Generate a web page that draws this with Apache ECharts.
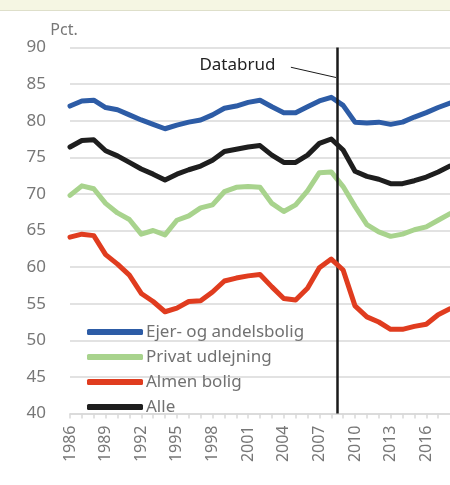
<!DOCTYPE html>
<html>
<head>
<meta charset="utf-8">
<script src="https://cdn.jsdelivr.net/npm/echarts@6/dist/echarts.min.js"></script>
<style>
  html, body { margin: 0; padding: 0; background: #fff; }
  #band { position: absolute; left: 0; top: 0; width: 450px; height: 10px; background: #f5f6e3; border-bottom: 1px solid #dedfca; }
  #chart { position: absolute; left: 0; top: 0; width: 450px; height: 485px; }
</style>
</head>
<body>
<div id="band"></div>
<div id="chart"></div>
<script>
// years 1986-2018
var years = [];
for (var y = 1986; y <= 2018; y++) years.push(y);

var ejer = [82.0, 82.7, 82.8, 81.8, 81.5, 80.8, 80.1, 79.5, 78.9, 79.4, 79.8,
            80.1, 80.8, 81.7, 82.0, 82.5, 82.8, 81.9, 81.1, 81.1, 81.9, 82.7,
            83.2, 82.1, 79.8, 79.7, 79.8, 79.5, 79.8, 80.5, 81.1, 81.8, 82.4];
var privat = [69.8, 71.1, 70.7, 68.7, 67.4, 66.5, 64.5, 65.0, 64.4, 66.4, 67.0,
              68.1, 68.5, 70.3, 70.9, 71.0, 70.9, 68.7, 67.6, 68.5, 70.4, 72.9,
              73.0, 71.0, 68.3, 65.8, 64.8, 64.2, 64.5, 65.1, 65.5, 66.4, 67.3];
var almen = [64.1, 64.5, 64.3, 61.7, 60.4, 58.9, 56.4, 55.3, 53.9, 54.4, 55.3,
             55.4, 56.6, 58.1, 58.5, 58.8, 59.0, 57.3, 55.7, 55.5, 57.1, 59.9,
             61.1, 59.6, 54.7, 53.2, 52.5, 51.5, 51.5, 51.9, 52.2, 53.5, 54.3];
var alle = [76.4, 77.3, 77.4, 75.9, 75.2, 74.3, 73.4, 72.7, 71.9, 72.7, 73.3,
            73.8, 74.6, 75.8, 76.1, 76.4, 76.6, 75.3, 74.3, 74.3, 75.3, 76.9,
            77.5, 76.0, 73.1, 72.4, 72.0, 71.4, 71.4, 71.8, 72.3, 73.0, 73.8];

var seriesNames = ['Ejer- og andelsbolig', 'Privat udlejning', 'Almen bolig', 'Alle'];
var seriesColors = ['#2d5ca6', '#a8d38d', '#e03c1f', '#1e1e1e'];
var seriesValues = [ejer, privat, almen, alle];

var breakYear = 2008.5;

function pairs(vals) {
  return years.map(function (yr, i) { return [yr, vals[i]]; });
}

var chart = echarts.init(document.getElementById('chart'));

var series = seriesNames.map(function (name, i) {
  return {
    name: name,
    type: 'line',
    data: pairs(seriesValues[i]),
    symbol: 'none',
    clip: false,
    lineStyle: { width: 5, color: seriesColors[i], cap: 'round', join: 'round' },
    itemStyle: { color: seriesColors[i] },
    z: 3 + i
  };
});

// Databrud annotation
series.push({
  name: 'databrud',
  type: 'line',
  data: [],
  clip: false,
  z: 10,
  markLine: {
    symbol: 'none',
    silent: true,
    label: { show: false },
    animation: false,
    lineStyle: { color: '#1a1a1a', type: 'solid', width: 1 },
    data: [
      [{ coord: [breakYear, 90], lineStyle: { color: '#1a1a1a', width: 2.5, type: 'solid' } },
       { coord: [breakYear, 40] }],
      [{ coord: [2004.6, 87.3], lineStyle: { color: '#1a1a1a', width: 1, type: 'solid' } },
       { coord: [2008.4, 85.9] }]
    ]
  },
  markPoint: {
    symbol: 'circle',
    symbolSize: 0,
    silent: true,
    animation: false,
    label: {
      show: true,
      formatter: 'Databrud',
      color: '#222',
      fontSize: 17,
      fontFamily: 'Noto Sans'
    },
    data: [{ coord: [2000.1, 87.6] }]
  }
});

chart.setOption({
  animation: false,
  backgroundColor: 'transparent',
  grid: { left: 70, right: -4, top: 47.5, bottom: 71.5 },
  legend: {
    orient: 'vertical',
    left: 82,
    top: 317,
    itemWidth: 56,
    itemHeight: 6,
    itemGap: 5,
    icon: 'roundRect',
    data: seriesNames,
    textStyle: { color: '#717171', fontSize: 17, fontFamily: 'Noto Sans', lineHeight: 20, padding: [0, 0, 0, -2] }
  },
  xAxis: {
    type: 'value',
    min: 1986,
    max: 2018,
    interval: 1,
    axisLine: { lineStyle: { color: '#d9d9d9', width: 1.5 } },
    axisTick: { show: true, length: 5, lineStyle: { color: '#d9d9d9', width: 1.5 } },
    splitLine: { show: false },
    axisLabel: {
      rotate: 90,
      margin: 12,
      color: '#777',
      fontSize: 16,
      fontFamily: 'Noto Sans',
      showMaxLabel: false,
      formatter: function (v) { return (v - 1986) % 3 === 0 ? String(v) : ''; }
    }
  },
  yAxis: {
    type: 'value',
    min: 40,
    max: 90,
    interval: 5,
    name: 'Pct.',
    nameLocation: 'end',
    nameGap: 9,
    nameTextStyle: { color: '#777', fontSize: 16, fontFamily: 'Noto Sans', padding: [0, 12, 0, 0] },
    axisLine: { show: false },
    axisTick: { show: false },
    splitLine: { lineStyle: { color: '#d9d9d9', width: 1.5 } },
    axisLabel: { color: '#777', fontSize: 17, fontFamily: 'Noto Sans', margin: 24 }
  },
  series: series
});
</script>
</body>
</html>
